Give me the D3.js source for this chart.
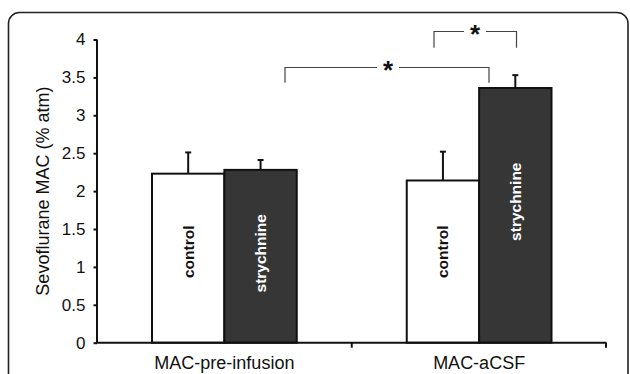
<!DOCTYPE html>
<html><head><meta charset="utf-8">
<script src="https://cdn.jsdelivr.net/npm/d3@7"></script>
<style>body{margin:0;background:#fff}svg{display:block}</style>
</head><body><svg id="c" width="630" height="374"></svg>
<script>
const categories = ["MAC-pre-infusion", "MAC-aCSF"];
const groups = ["control", "strychnine"];
const means = { control: [2.23, 2.14], strychnine: [2.28, 3.36] };
const errors = { control: [0.28, 0.38], strychnine: [0.13, 0.17] };
const labelAt = { control: [1.2, 1.2], strychnine: [1.18, 1.86] };
const yTicks = [0, 0.5, 1, 1.5, 2, 2.5, 3, 3.5, 4];

const svg = d3.select("#c");
const font = "'Liberation Sans', Arial, sans-serif";
const x0 = 97, x1 = 606.5, yTop = 39.5, yBot = 342.7;

// frame
svg.append("rect").attr("x", 8.5).attr("y", 12.5).attr("width", 619.5).attr("height", 400)
  .attr("rx", 11).attr("fill", "none").attr("stroke", "#222").attr("stroke-width", 1.6);

const x = d3.scaleBand().domain(categories).range([x0, x1]);
const xs = d3.scaleBand().domain(groups).range([0, x.bandwidth()]).paddingOuter(0.76).paddingInner(0);
const y = d3.scaleLinear().domain([0, 4]).range([yBot, yTop]);

// bars
const data = [];
categories.forEach((c, i) => groups.forEach(g => data.push({c, g, v: means[g][i], e: errors[g][i], l: labelAt[g][i]})));
const bx = d => x(d.c) + xs(d.g);
const bw = xs.bandwidth();

svg.selectAll(".bar").data(data).enter().append("rect")
  .attr("x", bx).attr("y", d => y(d.v)).attr("width", bw).attr("height", d => y(0) - y(d.v))
  .attr("fill", d => d.g === "control" ? "#fff" : "#363636")
  .attr("stroke", "#111").attr("stroke-width", 2);

// error bars
svg.selectAll(".err").data(data).enter().append("line")
  .attr("x1", d => bx(d) + bw / 2).attr("x2", d => bx(d) + bw / 2)
  .attr("y1", d => y(d.v)).attr("y2", d => y(d.v + d.e))
  .attr("stroke", "#111").attr("stroke-width", 2);
svg.selectAll(".cap").data(data).enter().append("line")
  .attr("x1", d => bx(d) + bw / 2 - 3).attr("x2", d => bx(d) + bw / 2 + 3)
  .attr("y1", d => y(d.v + d.e)).attr("y2", d => y(d.v + d.e))
  .attr("stroke", "#111").attr("stroke-width", 2);

// bar labels
svg.selectAll(".bl").data(data).enter().append("text")
  .attr("transform", d => `translate(${bx(d) + bw / 2},${y(d.l)}) rotate(-90)`)
  .attr("text-anchor", "middle").attr("dominant-baseline", "central")
  .style("font-family", font).style("font-weight", "bold").style("font-size", "15.5px")
  .attr("fill", d => d.g === "control" ? "#111" : "#fff")
  .text(d => d.g);

// y axis
const yAxis = svg.append("g").attr("transform", `translate(${x0},0)`)
  .call(d3.axisLeft(y).tickValues(yTicks).tickSize(3.5).tickPadding(8).tickFormat(d3.format("")));
yAxis.select(".domain").attr("stroke", "#111").attr("stroke-width", 2).attr("d", `M0,${yBot}V${yTop}`);
yAxis.selectAll(".tick line").attr("stroke", "#111").attr("stroke-width", 2);
yAxis.selectAll(".tick text").style("font-family", font).style("font-size", "17px").attr("fill", "#111");

// x axis
const xAxis = svg.append("g").attr("transform", `translate(0,${yBot})`)
  .call(d3.axisBottom(x).tickSize(0).tickPadding(14));
xAxis.select(".domain").attr("stroke", "#111").attr("stroke-width", 2).attr("d", `M${x0},0H${x1}`);
xAxis.selectAll(".tick text").style("font-family", font).style("font-size", "18px").attr("fill", "#111");
// separator ticks
svg.selectAll(".xt").data([x(categories[1]), x1 - 0.5]).enter().append("line")
  .attr("x1", d => d).attr("x2", d => d).attr("y1", yBot).attr("y2", yBot + 5)
  .attr("stroke", "#111").attr("stroke-width", 2);

// y label
svg.append("text").attr("transform", `translate(43,${(yTop + yBot) / 2}) rotate(-90)`)
  .attr("text-anchor", "middle").attr("dominant-baseline", "central")
  .style("font-family", font).style("font-size", "18px").attr("fill", "#111")
  .text("Sevoflurane MAC (% atm)");

// significance brackets
const brackets = [
  {xa: 285, xb: 489, yTopV: 3.64, yEnd: 3.43, star: 388},
  {xa: 434, xb: 516.5, yTopV: 4.11, yEnd: 3.89, star: 475}
];
brackets.forEach(b => {
  const yt = Math.round(y(b.yTopV)) + 0.5, ye = y(b.yEnd);
  svg.append("path").attr("fill", "none").attr("stroke", "#444").attr("stroke-width", 1.2)
    .attr("d", `M${b.xa},${ye}V${yt}H${b.star - 11}M${b.star + 11},${yt}H${b.xb}V${ye}`);
  svg.append("text").attr("x", b.star).attr("y", yt + 11).attr("text-anchor", "middle")
    .style("font-family", font).style("font-weight", "bold").style("font-size", "26px").attr("fill", "#111").text("*");
});
</script></body></html>
